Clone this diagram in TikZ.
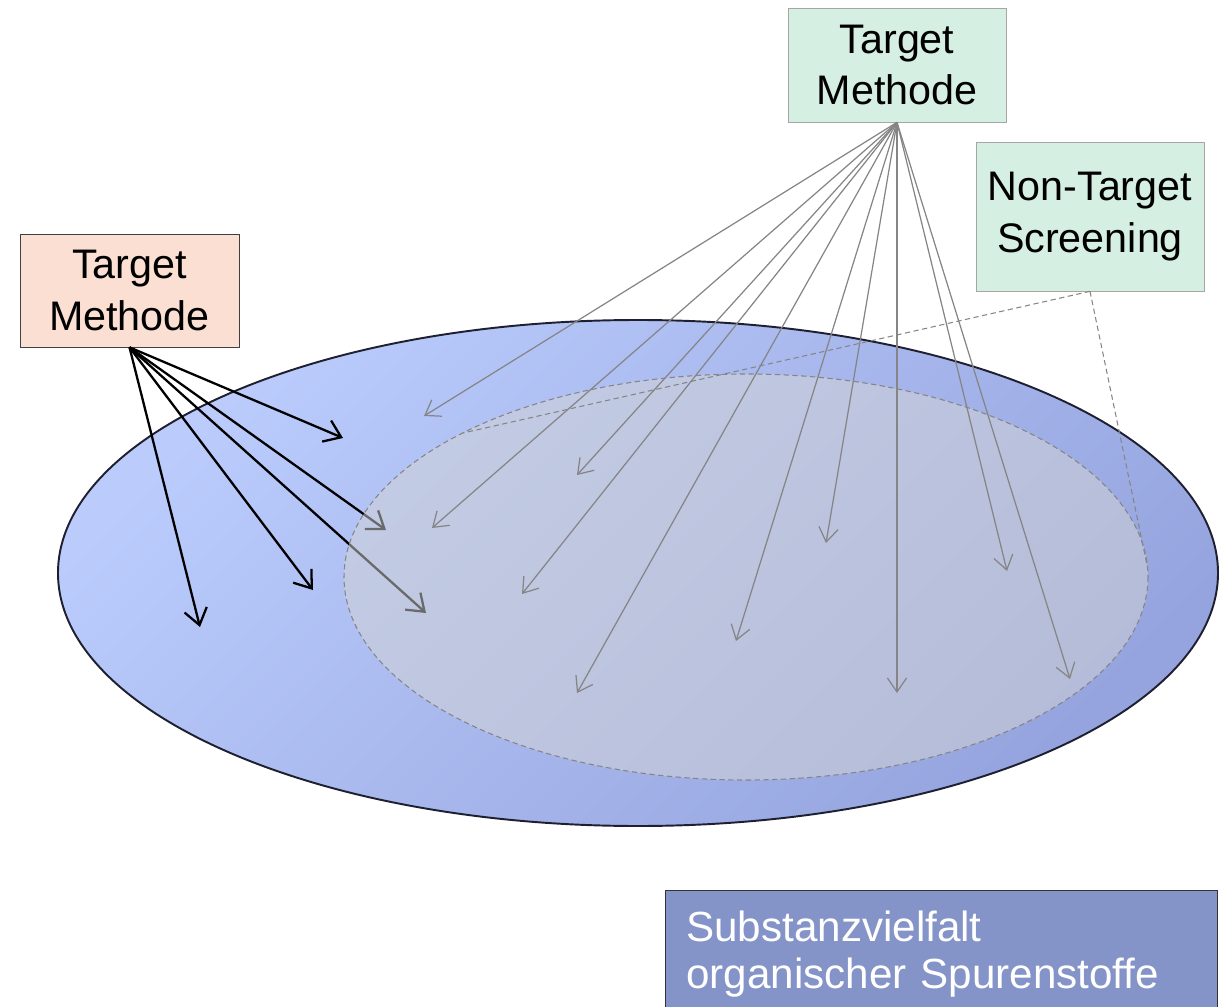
\documentclass[tikz,border=0pt]{standalone}
\usepackage{fontspec}
\setmainfont{Liberation Sans}
\usetikzlibrary{arrows.meta}

\definecolor{tmgreen}{HTML}{D5EFE3}
\definecolor{tmred}{HTML}{FBDFD3}
\definecolor{subblue}{HTML}{8594C8}
\definecolor{outerlight}{HTML}{BACBFC}
\definecolor{outerdark}{HTML}{95A4DE}
\definecolor{outerline}{HTML}{1E2030}
\definecolor{arrowgray}{HTML}{858585}

\begin{document}
\begin{tikzpicture}[x=0.02cm,y=-0.02cm,
    box/.style={draw,rectangle,align=center,font=\fontsize{23.5}{29.5}\selectfont},
    thinarrow/.style={-{Straight Barb[length=8pt,width=11pt]},draw=arrowgray,line width=0.7pt},
    thickarrow/.style={-{Straight Barb[length=9pt,width=13pt]},line width=1.3pt},
    ntsline/.style={draw=arrowgray,line width=0.6pt,dash pattern=on 3pt off 2pt}]
        \useasboundingbox (0,0) rectangle (1225,1007);

        \coordinate (G) at (897,65);
        \coordinate (N) at (1090,216.5);
        \coordinate (R) at (129.5,290.5);
        \coordinate (S) at (665,890);

        % Substanzvielfalt
        \path[draw=outerline,line width=1.1pt,top color=outerlight,bottom color=outerdark,shading angle=45]
            (638,573) ellipse [x radius=580, y radius=253];

        \node[box,draw=black!75,fill=tmred,minimum width=4.38cm,minimum height=2.26cm] (tmRed) at (R) {Target\\Methode};

        \coordinate (r1) at (343,438);
        \coordinate (r2) at (386,530);
        \coordinate (r3) at (426,613);
        \coordinate (r4) at (313,590);
        \coordinate (r5) at (200,627);

        \draw[thickarrow] (tmRed.south) -- (r1);
        \draw[thickarrow] (tmRed.south) -- (r2);
        \draw[thickarrow] (tmRed.south) -- (r3);
        \draw[thickarrow] (tmRed.south) -- (r4);
        \draw[thickarrow] (tmRed.south) -- (r5);

        % Non-Target Bereich
        \path[fill=white!83!black,fill opacity=0.5,draw=arrowgray,line width=0.6pt,dash pattern=on 3pt off 2pt]
            (746,577) ellipse [x radius=402, y radius=203];

        \node[box,draw=black!35,fill=tmgreen,minimum width=4.36cm,minimum height=2.28cm] (tmGreen) at (G) {Target\\Methode};
        \node[box,draw=black!35,fill=tmgreen,minimum width=4.56cm,minimum height=2.98cm] (nts) at (N) {Non-Target\\Screening};

        \coordinate (n1) at (463,433);
        \coordinate (n2) at (1147,565);
        \draw[ntsline] (nts.south) -- (n1);
        \draw[ntsline] (nts.south) -- (n2);

        \coordinate (g1) at (424,416);
        \coordinate (g2) at (577,475);
        \coordinate (g3) at (432,528);
        \coordinate (g4) at (522,594);
        \coordinate (g5) at (577,693);
        \coordinate (g6) at (736,641);
        \coordinate (g7) at (826,543);
        \coordinate (g8) at (897,693);
        \coordinate (g9) at (1007,571);
        \coordinate (g10) at (1070,679);

        \draw[thinarrow] (tmGreen.south) -- (g1);
        \draw[thinarrow] (tmGreen.south) -- (g2);
        \draw[thinarrow] (tmGreen.south) -- (g3);
        \draw[thinarrow] (tmGreen.south) -- (g4);
        \draw[thinarrow] (tmGreen.south) -- (g5);
        \draw[thinarrow] (tmGreen.south) -- (g6);
        \draw[thinarrow] (tmGreen.south) -- (g7);
        \draw[thinarrow] (tmGreen.south) -- (g8);
        \draw[thinarrow] (tmGreen.south) -- (g9);
        \draw[thinarrow] (tmGreen.south) -- (g10);

        %############################################

        \node[draw=black!80,fill=subblue,text=white,anchor=north west,align=left,
              minimum width=11.02cm,minimum height=2.56cm,text width=10.2cm,inner xsep=0.42cm,
              font=\fontsize{24}{26.5}\selectfont] (sub) at (S) {Substanzvielfalt\\organischer Spurenstoffe};
    \end{tikzpicture}
\end{document}
